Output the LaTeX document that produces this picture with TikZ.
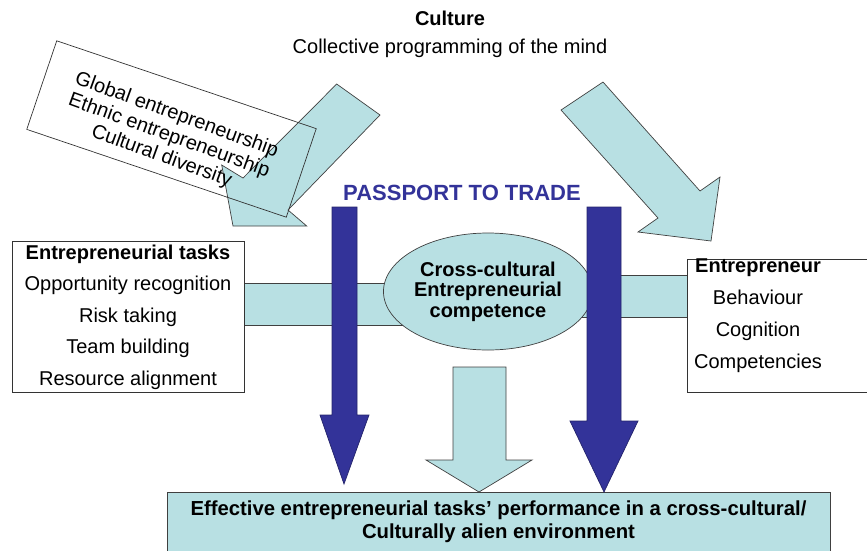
\documentclass[tikz,border=0pt]{standalone}
\usepackage{fontspec}
\setmainfont{Liberation Sans}
\usetikzlibrary{shapes.geometric}
\definecolor{tealfill}{RGB}{184,224,227}
\definecolor{passblue}{RGB}{51,51,153}
\tikzset{
  lightshape/.style={fill=tealfill,draw=black!75,line width=0.7pt},
  navyarrow/.style={fill=passblue,draw=passblue!70!black,line width=0.7pt},
  plainbox/.style={draw=black!80,line width=0.7pt},
  bodytext/.style={font=\fontsize{20}{24}\selectfont}
}
\begin{document}
\begin{tikzpicture}[x=1pt,y=-1pt]
                \useasboundingbox (0,0) rectangle (867,550);
                \clip (0,0) rectangle (867,550);
                %% Culture arrows
                \draw[lightshape] (336.7,84) -- (243,178) -- (221.7,165) -- (233,226)
                    -- (306.7,226) -- (288,210) -- (380,115) -- cycle;
                \draw[lightshape] (603,82) -- (700,191) -- (720,177) -- (711,241)
                    -- (638,232) -- (658,218) -- (561,110) -- cycle;
                %% Bars to the competence
                \draw[lightshape] (244,283) rectangle (430,325);
                \draw[lightshape] (540,275) rectangle (687,317);
                \draw[lightshape] (453,367) -- (506,367) -- (506,460) -- (532,460)
                    -- (479,492) -- (426,460) -- (453,460) -- cycle;
                %% Texts
                \node[bodytext,font=\bfseries\fontsize{20}{24}\selectfont] (culture) at (450,18) {Culture};
                \node[bodytext] (mind) at (450,48) {Collective programming of the mind};
                \node[plainbox,rotate=-18.7,minimum width=274pt,minimum height=93.5pt] (globalbox) at (171.5,129) {};
                \node[rotate=-20,align=center,font=\fontsize{20}{22}\selectfont] (globaltext) at (169,136)
                    {Global entrepreneurship\\Ethnic entrepreneurship\\Cultural diversity};
                \node[text=passblue,font=\bfseries\fontsize{22}{26}\selectfont] (passport) at (462,193) {PASSPORT TO TRADE};
                \node[plainbox,fill=white,minimum width=232pt,minimum height=150pt,align=center,
                    font=\fontsize{20}{31.5}\selectfont] (tasks) at (128,317)
                    {\textbf{Entrepreneurial tasks}\\Opportunity recognition\\Risk taking\\Team building\\Resource alignment};
                \node[lightshape,ellipse,minimum width=163pt,minimum height=117pt,inner sep=0pt,align=center,
                    font=\bfseries\fontsize{20}{20.5}\selectfont] (comp) at (488,291.5)
                    {Cross-cultural\\Entrepreneurial\\competence};
                \node[plainbox,fill=white,anchor=north west,minimum width=200pt,minimum height=133pt] (entrebox) at (687,259) {};
                \node[align=center,font=\fontsize{20}{32}\selectfont] (entre) at (758,316)
                    {\textbf{Entrepreneur}\\Behaviour\\Cognition\\Competencies};
                \node[lightshape,minimum width=663pt,minimum height=60pt,align=center,
                    font=\bfseries\fontsize{20.3}{23}\selectfont] (perf) at (498.5,522)
                    {Effective entrepreneurial tasks’ performance in a cross-cultural/\\Culturally alien environment};
                %% Passport arrows
                \draw[navyarrow] (332,207) -- (357,207) -- (357,415) -- (369,415)
                    -- (344,484) -- (320,415) -- (332,415) -- cycle;
                \draw[navyarrow] (587,207) -- (621,207) -- (621,421) -- (638,421)
                    -- (604,492) -- (570,421) -- (587,421) -- cycle;
\end{tikzpicture}
\end{document}
